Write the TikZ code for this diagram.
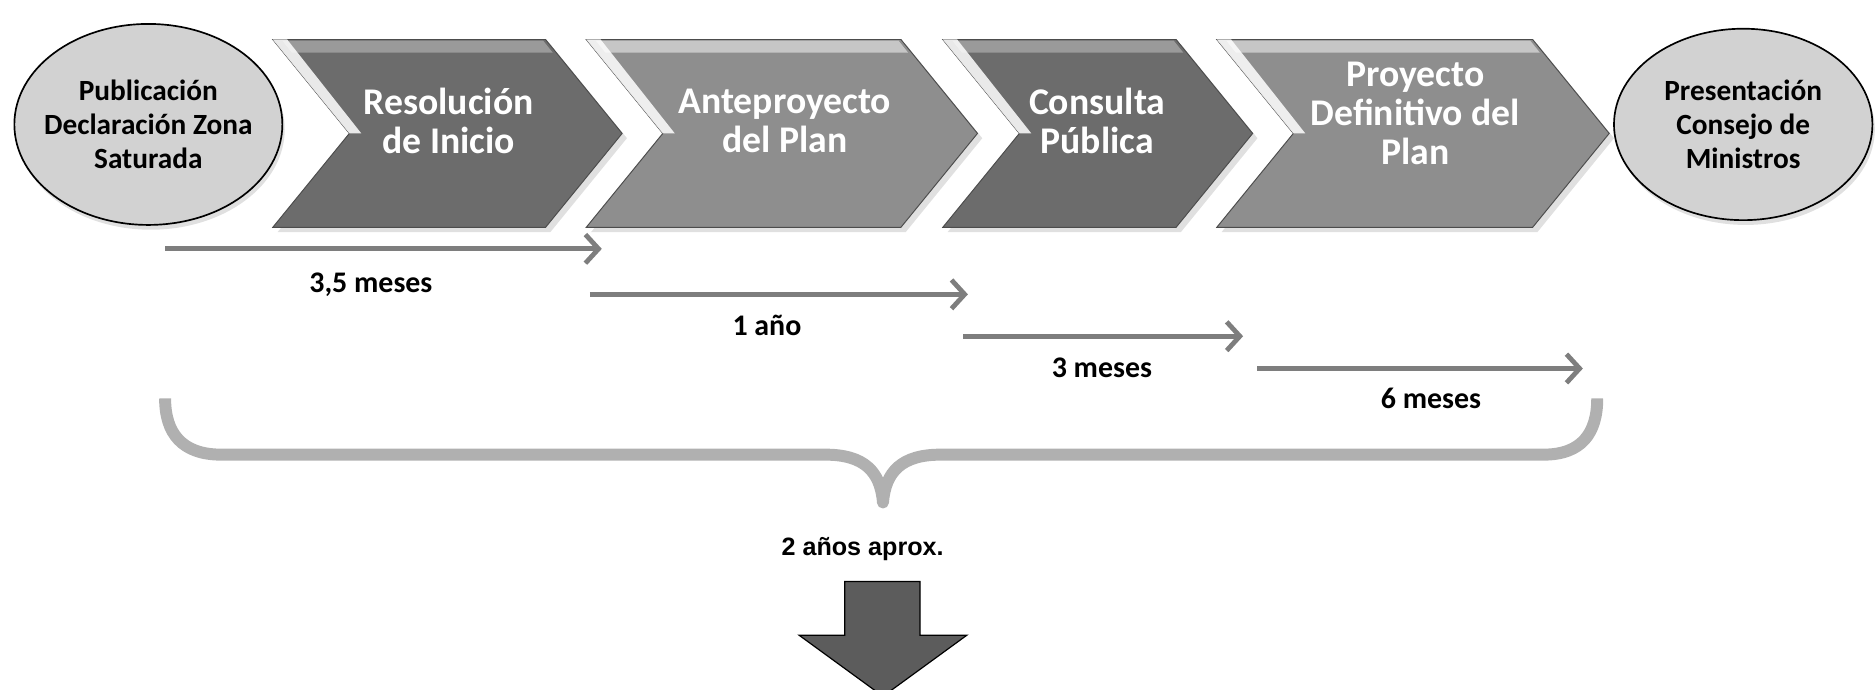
\documentclass[tikz,border=0pt]{standalone}
\usepackage{fontspec}
\setmainfont{Carlito}
\newfontfamily\arialfont{Liberation Sans}
\usetikzlibrary{arrows.meta,shapes.geometric}
\definecolor{chevD}{HTML}{6C6C6C}
\definecolor{chevL}{HTML}{8E8E8E}
\definecolor{bandD}{HTML}{9A9A9A}
\definecolor{bandL}{HTML}{C6C6C6}
\definecolor{ellfill}{HTML}{D2D2D2}
\definecolor{arrowgray}{HTML}{7E7E7E}
\definecolor{bracegray}{HTML}{B0B0B0}
\definecolor{bigarrow}{HTML}{5C5C5C}
\newcommand{\mychev}[6]{%
  % #1 xl, #2 notch, #3 xr, #4 tip, #5 fill, #6 band
  \fill[black!12] (#1+4,37) -- (#3+4,37) -- (#4+4,115.5) -- (#3+4,194) -- (#1+4,194) -- (#2+4,115.5) -- cycle;
  \fill[#5, draw=black!70, line width=0.8pt] (#1,33) -- (#3,33) -- (#4,111.5) -- (#3,190) -- (#1,190) -- (#2,111.5) -- cycle;
  \fill[#6] (#1+8,34) -- (#3-2,34) -- (#3+6,44) -- (#1+16,44) -- cycle;
  \fill[white, opacity=0.85] (#1,33) -- (#1+12,33) -- (#2+10,111.5) -- (#2,111.5) -- cycle;
}
\tikzset{
  ellnode/.style={ellipse, draw=black, line width=1.4pt, fill=ellfill,
    inner xsep=-14pt, inner ysep=0pt,
    align=center, font=\fontsize{24.5}{28.5}\selectfont\bfseries, text=black},
  steptext/.style={align=center, text=white, font=\fontsize{31.5}{32.5}\selectfont\bfseries},
  durarrow/.style={draw=arrowgray, line width=4pt,
    -{Straight Barb[length=11pt, width=24pt, line width=4pt]}},
  durlabel/.style={font=\fontsize{25}{28}\selectfont\bfseries, text=black},
  bracestyle/.style={draw=bracegray, line width=10pt, line join=round, line cap=butt},
}
\begin{document}
\begin{tikzpicture}[x=1pt,y=-1pt]
\useasboundingbox (0,0) rectangle (1568,576);
% left ellipse
\fill[black!12] (126,108) ellipse [x radius=112pt, y radius=84pt];
\node[ellnode, minimum width=224pt, minimum height=168pt] (e1) at (124,104)
  {Publicación\\Declaración Zona\\Saturada};
% chevrons
\mychev{228}{292}{456}{520}{chevD}{bandD}
\mychev{490}{554}{753}{817}{chevL}{bandL}
\mychev{788}{852}{983}{1047}{chevD}{bandD}
\mychev{1017}{1081}{1281}{1345}{chevL}{bandL}
\node[steptext] (s1) at (375,101) {Resolución\\de Inicio};
\node[steptext] (s2) at (656,101) {Anteproyecto\\del Plan};
\node[steptext] (s3) at (917,101) {Consulta\\Pública};
\node[steptext] (s4) at (1183,95) {Proyecto\\Definitivo del\\Plan};
% right ellipse
\fill[black!12] (1459,108) ellipse [x radius=108pt, y radius=80pt];
\node[ellnode, minimum width=216pt, minimum height=160pt] (e2) at (1457,104)
  {Presentación\\Consejo de\\Ministros};
% duration arrows
\coordinate (a1s) at (138,208);  \coordinate (a1e) at (503,208);
\coordinate (a2s) at (493,246);  \coordinate (a2e) at (809,246);
\coordinate (a3s) at (805,281);  \coordinate (a3e) at (1039,281);
\coordinate (a4s) at (1051,308); \coordinate (a4e) at (1323,308);
\draw[durarrow] (a1s) -- (a1e);
\draw[durarrow] (a2s) -- (a2e);
\draw[durarrow] (a3s) -- (a3e);
\draw[durarrow] (a4s) -- (a4e);
\node[durlabel] (l1) at (310,238) {3,5 meses};
\node[durlabel] (l2) at (641,272) {1 año};
\node[durlabel] (l3) at (921,307) {3 meses};
\node[durlabel] (l4) at (1196,333) {6 meses};
% brace
\draw[bracestyle] (138,333) .. controls (138,362) and (152,380) .. (185,380)
  -- (690,380) .. controls (722,380) and (736,394) .. (738,420)
  .. controls (740,394) and (754,380) .. (786,380)
  -- (1290,380) .. controls (1322,380) and (1335,362) .. (1335,333);
\node[font=\arialfont\fontsize{21}{25}\selectfont\bfseries] (total) at (721,459) {2 años aprox.};
% big down arrow
\filldraw[fill=bigarrow, draw=black, line width=1pt]
  (706,486) -- (769,486) -- (769,531) -- (808,531) -- (738,582) -- (668,531) -- (706,531) -- cycle;
\end{tikzpicture}
\end{document}
